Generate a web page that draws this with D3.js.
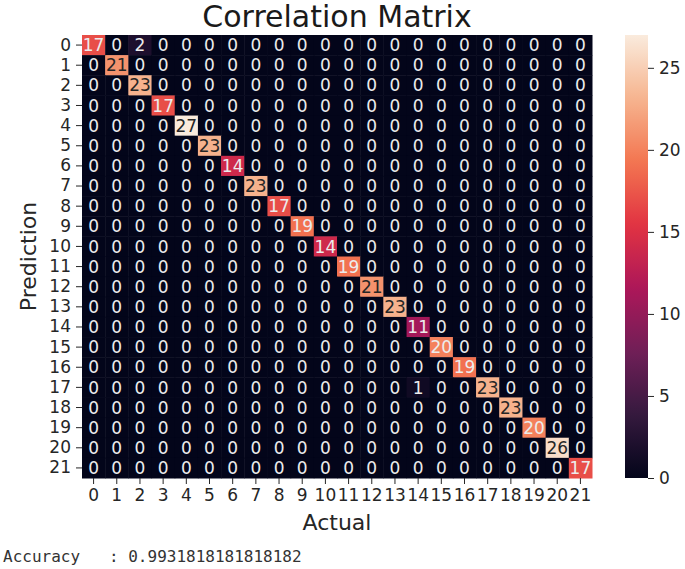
<!DOCTYPE html>
<html>
<head>
<meta charset="utf-8">
<script src="https://cdn.jsdelivr.net/npm/d3@7"></script>
<style>
  body { margin: 0; background: #fff; }
  text { font-family: "DejaVu Sans", sans-serif; }
</style>
</head>
<body>
<div id="chart"></div>
<script>
// class labels 0..21
var labels = ["0","1","2","3","4","5","6","7","8","9","10","11","12","13","14","15","16","17","18","19","20","21"];
// correct predictions on the diagonal
var diagonal = [17,21,23,17,27,23,14,23,17,19,14,19,21,23,11,20,19,23,23,20,26,17];
// the few misclassified cells: [prediction row, actual col, count]
var offDiag = [[0, 2, 2], [17, 14, 1]];
var cbTicks = [0, 5, 10, 15, 20, 25];
var vmax = 27;
var accuracyText = "Accuracy   : 0.9931818181818182";

// rocket colormap stops (seaborn)
var rocketStops = ["#03051a", "#35193e", "#701f57", "#ad1759", "#e13342", "#f37651", "#f6b48f", "#faebdd"];

//build the matrix
var cells = [];
labels.forEach(function(r, i) {
  labels.forEach(function(c, j) {
    cells.push({row: r, col: c, value: i === j ? diagonal[i] : 0});
  });
});
offDiag.forEach(function(o) {
  cells[o[0] * labels.length + o[1]].value = o[2];
});

var width = 685, height = 569;
var margin = {left: 82, right: 592, top: 35, bottom: 478};

var svg = d3.select("#chart").append("svg")
    .attr("width", width)
    .attr("height", height);

var x = d3.scaleBand().domain(labels).range([margin.left, margin.right]);
var y = d3.scaleBand().domain(labels).range([margin.top, margin.bottom]);

var color = d3.scaleLinear()
    .domain(rocketStops.map(function(d, i) { return vmax * i / (rocketStops.length - 1); }))
    .range(rocketStops)
    .interpolate(d3.interpolateRgb);

//same rule seaborn uses to pick annotation colour
function lum(c) {
  var rgb = d3.rgb(c);
  var f = function(v) { v /= 255; return v <= 0.03928 ? v / 12.92 : Math.pow((v + 0.055) / 1.055, 2.4); };
  return 0.2126 * f(rgb.r) + 0.7152 * f(rgb.g) + 0.0722 * f(rgb.b);
}

///////////////////////////////////////////////////////////////////////////
////////////////////////////// Heatmap cells //////////////////////////////
///////////////////////////////////////////////////////////////////////////

svg.append("g")
    .selectAll("rect")
    .data(cells)
    .enter().append("rect")
    .attr("x", function(d) { return x(d.col); })
    .attr("y", function(d) { return y(d.row); })
    .attr("width", x.bandwidth() + 0.5)
    .attr("height", y.bandwidth() + 0.5)
    .attr("fill", function(d) { return color(d.value); });

svg.append("g")
    .selectAll("text")
    .data(cells)
    .enter().append("text")
    .attr("x", function(d) { return x(d.col) + x.bandwidth() / 2; })
    .attr("y", function(d) { return y(d.row) + y.bandwidth() / 2; })
    .attr("dy", "0.36em")
    .attr("text-anchor", "middle")
    .style("font-size", "17px")
    .attr("fill", function(d) { return lum(color(d.value)) > 0.408 ? "#262626" : "#ececec"; })
    .text(function(d) { return d.value; });

//axes
var xAxis = svg.append("g")
    .attr("transform", "translate(0," + margin.bottom + ")")
    .call(d3.axisBottom(x).tickSizeOuter(0).tickSize(6).tickPadding(5));
var yAxis = svg.append("g")
    .attr("transform", "translate(" + margin.left + ",0)")
    .call(d3.axisLeft(y).tickSizeOuter(0).tickSize(6).tickPadding(5));

[xAxis, yAxis].forEach(function(a) {
  a.select(".domain").remove();
  a.selectAll("text").style("font-size", "17px").attr("fill", "#262626").style("font-family", "DejaVu Sans");
  a.selectAll("line").attr("stroke", "#262626");
});

//titles
svg.append("text")
    .attr("x", (margin.left + margin.right) / 2)
    .attr("y", 27)
    .attr("text-anchor", "middle")
    .style("font-size", "30px")
    .attr("fill", "#1a1a1a")
    .text("Correlation Matrix");

svg.append("text")
    .attr("x", (margin.left + margin.right) / 2)
    .attr("y", 530)
    .attr("text-anchor", "middle")
    .style("font-size", "22px")
    .attr("fill", "#262626")
    .text("Actual");

svg.append("text")
    .attr("transform", "translate(36," + ((margin.top + margin.bottom) / 2) + ") rotate(-90)")
    .attr("text-anchor", "middle")
    .style("font-size", "22px")
    .attr("fill", "#262626")
    .text("Prediction");

///////////////////////////////////////////////////////////////////////////
//////////////////////////////// Colorbar /////////////////////////////////
///////////////////////////////////////////////////////////////////////////

var cbX = 625, cbW = 23;
var cbScale = d3.scaleLinear().domain([0, vmax]).range([margin.bottom, margin.top]);

var defs = svg.append("defs");
var grad = defs.append("linearGradient")
    .attr("id", "rocket")
    .attr("x1", "0").attr("y1", "1")
    .attr("x2", "0").attr("y2", "0");
d3.range(0, 1.0001, 0.02).forEach(function(t) {
  grad.append("stop")
      .attr("offset", t)
      .attr("stop-color", color(t * vmax));
});

svg.append("rect")
    .attr("x", cbX)
    .attr("y", margin.top)
    .attr("width", cbW)
    .attr("height", margin.bottom - margin.top)
    .attr("fill", "url(#rocket)");

var cbAxis = svg.append("g")
    .attr("transform", "translate(" + (cbX + cbW) + ",0)")
    .call(d3.axisRight(cbScale).tickValues(cbTicks).tickSize(6).tickPadding(5).tickSizeOuter(0));
cbAxis.select(".domain").remove();
cbAxis.selectAll("text").style("font-size", "17px").attr("fill", "#262626").style("font-family", "DejaVu Sans");
cbAxis.selectAll("line").attr("stroke", "#262626");

//printed output under the figure
svg.append("text")
    .attr("x", 3)
    .attr("y", 562)
    .style("font-family", "DejaVu Sans Mono, monospace")
    .style("font-size", "16px")
    .style("white-space", "pre")
    .attr("xml:space", "preserve")
    .attr("fill", "#333")
    .text(accuracyText);
</script>
</body>
</html>
